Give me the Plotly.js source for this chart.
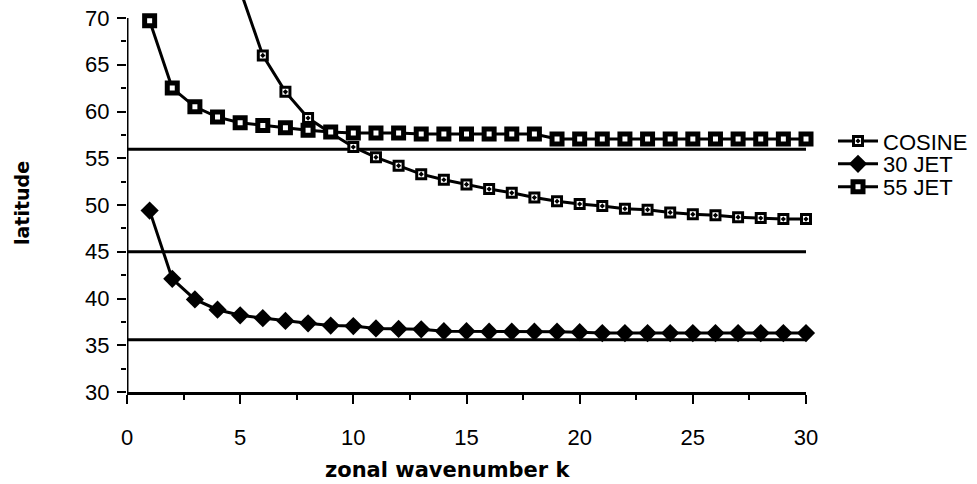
<!DOCTYPE html>
<html>
<head>
<meta charset="utf-8">
<script src="https://cdn.plot.ly/plotly-3.0.1.min.js"></script>
<style>html,body{margin:0;padding:0;background:#fff;}#chart{width:977px;height:484px;}</style>
</head>
<body>
<div id="chart"></div>
<script>
// wavenumbers
var k = [1,2,3,4,5,6,7,8,9,10,11,12,13,14,15,16,17,18,19,20,21,22,23,24,25,26,27,28,29,30];
var kCosine = [5,6,7,8,9,10,11,12,13,14,15,16,17,18,19,20,21,22,23,24,25,26,27,28,29,30];
// series values (latitude)
var cosine = [73.0,66.0,62.1,59.3,57.7,56.2,55.1,54.2,53.3,52.7,52.2,51.7,51.3,50.8,50.4,50.1,49.9,49.6,49.5,49.2,49.0,48.9,48.7,48.6,48.5,48.5];
var jet30 = [49.4,42.1,39.9,38.8,38.2,37.9,37.6,37.35,37.1,37.05,36.8,36.75,36.7,36.5,36.5,36.45,36.45,36.45,36.45,36.4,36.3,36.3,36.3,36.3,36.3,36.3,36.3,36.3,36.3,36.3];
var jet55 = [69.7,62.5,60.5,59.4,58.8,58.5,58.25,58.0,57.8,57.7,57.7,57.7,57.6,57.6,57.6,57.6,57.6,57.6,57.05,57.05,57.05,57.05,57.05,57.05,57.05,57.05,57.05,57.05,57.05,57.05];
// reference latitudes
var refLevels = [55.95, 45.0, 35.6];
var refX = [0, 30];
// ticks
var xTicks = [0,5,10,15,20,25,30];
var yTicks = [30,35,40,45,50,55,60,65,70];
var names = ['COSINE','30 JET','55 JET'];
var xTitle = 'zonal wavenumber k';
var yTitle = 'latitude';

var FONT = 'Liberation Sans, Arial, Helvetica, sans-serif';
var TFONT = 'DejaVu Sans, Arial, sans-serif';
var traces = [];
refLevels.forEach(function(v){
  traces.push({x: refX, y: [v, v], mode: 'lines', line: {color: '#000', width: 3}, showlegend: false, hoverinfo: 'skip'});
});
traces.push({x: kCosine, y: cosine, name: names[0], legend: 'legend', mode: 'lines+markers', cliponaxis: false,
  line: {color: '#000', width: 3},
  marker: {symbol: 'square-dot', size: 9, color: '#fff', line: {color: '#000', width: 3}}});
traces.push({x: k, y: jet30, name: names[1], legend: 'legend2', mode: 'lines+markers', cliponaxis: false,
  line: {color: '#000', width: 3},
  marker: {symbol: 'diamond', size: 14, color: '#000', line: {color: '#000', width: 0}}});
traces.push({x: k, y: jet55, name: names[2], legend: 'legend3', mode: 'lines+markers', cliponaxis: false,
  line: {color: '#000', width: 3},
  marker: {symbol: 'square', size: 10, color: '#fff', line: {color: '#000', width: 5}}});

function leg(y){
  return {x: (833 - 127) / 679, xanchor: 'left', y: y, yanchor: 'middle',
          font: {family: FONT, size: 22, color: '#000'},
          itemwidth: 40, bgcolor: 'rgba(0,0,0,0)', borderwidth: 0};
}

var layout = {
  width: 977, height: 484,
  margin: {l: 127, r: 171, t: 0, b: 92},
  paper_bgcolor: '#fff', plot_bgcolor: '#fff',
  font: {family: FONT, color: '#000', size: 22},
  showlegend: true,
  legend: leg(0.640), legend2: leg(0.5816), legend3: leg(0.523),
  xaxis: {range: [0, 30], tickmode: 'array', tickvals: xTicks, ticktext: xTicks.map(String),
    showgrid: false, zeroline: false, showline: true, linecolor: '#000', linewidth: 3,
    ticks: 'outside', ticklen: 9, tickwidth: 2, tickcolor: '#000', ticklabelstandoff: 15,
    tickfont: {family: FONT, size: 22, color: '#000'},
    minor: {tickmode: 'linear', tick0: 0, dtick: 2.5, ticks: 'outside', ticklen: 5, tickwidth: 2, tickcolor: '#000'}},
  yaxis: {range: [30, 71.925], tickmode: 'array', tickvals: yTicks, ticktext: yTicks.map(String),
    showgrid: false, zeroline: false, showline: false,
    ticks: 'outside', ticklen: 9, tickwidth: 2, tickcolor: '#000', ticklabelstandoff: 3,
    tickfont: {family: FONT, size: 22, color: '#000'},
    minor: {tickmode: 'linear', tick0: 0, dtick: 2.5, ticks: 'outside', ticklen: 5, tickwidth: 2, tickcolor: '#000'}},
  annotations: [
    {text: '<b>' + xTitle + '</b>', xref: 'paper', yref: 'paper', x: (448 - 127) / 679, y: (392 - 470) / 392,
     xanchor: 'center', yanchor: 'middle', showarrow: false, font: {family: TFONT, size: 21, color: '#000'}},
    {text: '<b>' + yTitle + '</b>', xref: 'paper', yref: 'paper', x: (22 - 127) / 679, y: (392 - 203) / 392,
     xanchor: 'center', yanchor: 'middle', showarrow: false, textangle: -90, font: {family: TFONT, size: 19, color: '#000'}}
  ],
  shapes: [{type: 'line', xref: 'x', yref: 'y', x0: 0, x1: 0, y0: yTicks[0], y1: yTicks[yTicks.length-1],
            line: {color: '#000', width: 3}, layer: 'above'}]
};
Plotly.newPlot('chart', traces, layout, {displayModeBar: false, staticPlot: true});
</script>
</body>
</html>
